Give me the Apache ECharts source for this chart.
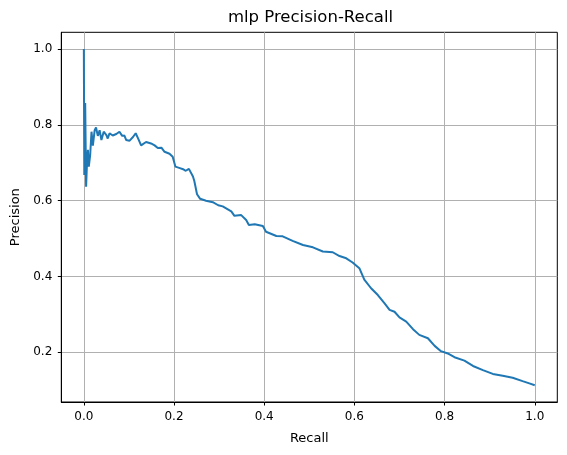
<!DOCTYPE html>
<html>
<head>
<meta charset="utf-8">
<script src="https://cdn.jsdelivr.net/npm/echarts@6/dist/echarts.min.js"></script>
<style>
html,body{margin:0;padding:0;background:#fff;}
#chart{width:567px;height:455px;}
</style>
</head>
<body>
<div id="chart"></div>
<script>
const recall = [0.000,0.001,0.003,0.005,0.007,0.009,0.011,0.014,0.017,0.020,0.024,0.027,0.031,0.035,0.039,0.044,0.050,0.053,0.057,0.064,0.072,0.079,0.085,0.090,0.094,0.101,0.109,0.115,0.120,0.127,0.138,0.149,0.157,0.164,0.172,0.179,0.190,0.197,0.203,0.213,0.220,0.226,0.233,0.242,0.245,0.251,0.258,0.271,0.286,0.298,0.308,0.327,0.334,0.349,0.360,0.366,0.379,0.397,0.404,0.427,0.441,0.463,0.486,0.508,0.530,0.552,0.567,0.582,0.596,0.611,0.622,0.637,0.652,0.667,0.678,0.689,0.700,0.715,0.730,0.744,0.763,0.778,0.792,0.807,0.822,0.844,0.863,0.885,0.907,0.929,0.951,0.973,0.988,1.000];
const precision = [1.000,0.668,0.858,0.637,0.700,0.734,0.690,0.720,0.782,0.745,0.786,0.793,0.771,0.786,0.760,0.782,0.773,0.764,0.778,0.772,0.776,0.782,0.771,0.772,0.760,0.758,0.768,0.778,0.765,0.746,0.755,0.751,0.746,0.739,0.740,0.729,0.724,0.716,0.690,0.686,0.683,0.679,0.684,0.664,0.652,0.617,0.605,0.600,0.596,0.588,0.585,0.572,0.560,0.562,0.549,0.536,0.538,0.533,0.518,0.507,0.506,0.494,0.483,0.477,0.466,0.464,0.454,0.448,0.437,0.422,0.392,0.369,0.351,0.329,0.312,0.307,0.292,0.281,0.261,0.246,0.237,0.217,0.203,0.197,0.187,0.178,0.164,0.153,0.143,0.138,0.133,0.124,0.118,0.113];
const xTicks = [0.0,0.2,0.4,0.6,0.8,1.0];
const yTicks = [0.2,0.4,0.6,0.8,1.0];

const points = recall.map((r,i)=>[r,precision[i]]);
const FONT = 'DejaVu Sans';
const chart = echarts.init(document.getElementById('chart'), null, {renderer:'canvas'});
chart.setOption({
  animation:false,
  backgroundColor:'#ffffff',
  title:{
    text:'mlp Precision-Recall',
    left:310.5, top:9, padding:0, textAlign:'center',
    textStyle:{fontFamily:FONT,fontSize:16.5,fontWeight:'normal',color:'#000'}
  },
  grid:{left:61.3,right:9.7,top:32.3,bottom:53,show:true,borderColor:'#000',borderWidth:1,backgroundColor:'transparent'},
  xAxis:{
    type:'value', min:-0.05, max:1.05,
    name:'Recall', nameLocation:'middle', nameGap:30,
    nameTextStyle:{fontFamily:FONT,fontSize:13,color:'#000'},
    axisLine:{show:true,onZero:false,lineStyle:{color:'#000',width:1}},
    axisTick:{show:true,length:3.5,inside:false,customValues:xTicks,lineStyle:{color:'#000',width:1}},
    axisLabel:{customValues:xTicks,margin:9,fontFamily:FONT,fontSize:12,color:'#000',formatter:v=>v.toFixed(1)},
    splitLine:{show:true,lineStyle:{color:'#b0b0b0',width:1}}
  },
  yAxis:{
    type:'value', min:0.0689, max:1.0443,
    name:'Precision', nameLocation:'middle', nameGap:33, nameRotate:90,
    nameTextStyle:{fontFamily:FONT,fontSize:13,color:'#000'},
    axisLine:{show:true,onZero:false,lineStyle:{color:'#000',width:1}},
    axisTick:{show:true,length:3.5,inside:false,customValues:yTicks,lineStyle:{color:'#000',width:1}},
    axisLabel:{customValues:yTicks,margin:9,fontFamily:FONT,fontSize:12,color:'#000',formatter:v=>v.toFixed(1)},
    splitLine:{show:true,lineStyle:{color:'#b0b0b0',width:1}}
  },
  series:[{
    type:'line', data:points, showSymbol:false, symbol:'none',
    lineStyle:{color:'#1f77b4',width:2}, itemStyle:{color:'#1f77b4'}
  }]
});
</script>
</body>
</html>
